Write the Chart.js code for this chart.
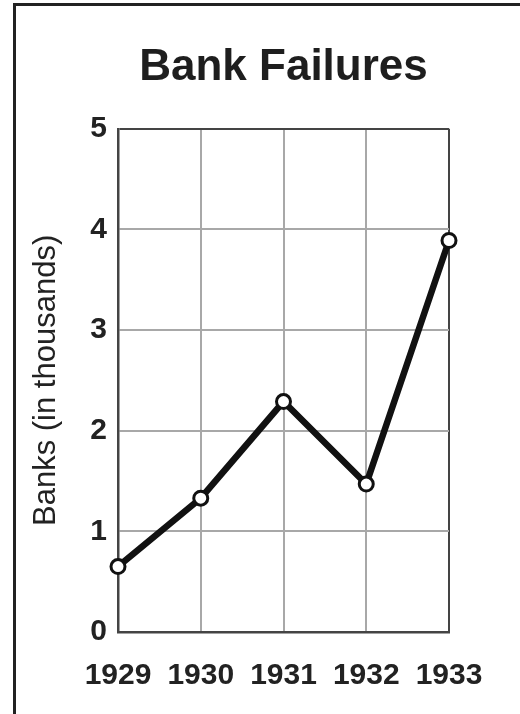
<!DOCTYPE html>
<html>
<head>
<meta charset="utf-8">
<script src="https://cdn.jsdelivr.net/npm/chart.js@4"></script>
<style>
  html, body { margin: 0; padding: 0; background: #fff; }
  #wrap { position: relative; width: 520px; height: 714px; overflow: hidden; }
  #wrap::before { content: ""; position: absolute; left: 13px; top: 3px; right: 0; bottom: 0;
    border-left: 3px solid #222; border-top: 3px solid #222; pointer-events: none; z-index: 2; }
  canvas { position: absolute; left: 0; top: 0; }
</style>
</head>
<body>
<div id="wrap"><canvas id="c" width="520" height="714"></canvas></div>
<script>
const years = ['1929', '1930', '1931', '1932', '1933'];
const bankFailures = [0.65, 1.33, 2.29, 1.47, 3.89];
const yTicks = [0, 1, 2, 3, 4, 5];
const chartTitle = 'Bank Failures';
const yTitle = 'Banks (in thousands)';

const tickFont = { family: "'Liberation Sans', Arial, sans-serif", size: 30, weight: 'bold' };
const frame = '#444';
const grid = '#a8a8a8';

new Chart(document.getElementById('c'), {
  type: 'line',
  data: {
    labels: years,
    datasets: [{
      data: bankFailures,
      borderColor: '#111',
      borderWidth: 6.5,
      tension: 0,
      pointRadius: 7,
      pointBackgroundColor: '#fff',
      pointBorderColor: '#111',
      pointBorderWidth: 3,
      clip: false
    }]
  },
  options: {
    responsive: false,
    animation: false,
    layout: { padding: { top: 41, right: 71, bottom: 0, left: 0 } },
    plugins: {
      legend: { display: false },
      tooltip: { enabled: false },
      title: {
        display: true,
        fullSize: false,
        text: chartTitle,
        color: '#1e1e1e',
        font: { family: "'Liberation Sans', Arial, sans-serif", size: 44, weight: 'bold' },
        padding: { top: 0, bottom: 35 }
      }
    },
    scales: {
      x: {
        offset: false,
        grid: {
          drawTicks: false,
          color: c => (c.index === 0 || c.index === years.length - 1) ? frame : grid,
          lineWidth: 2
        },
        border: { display: true, color: frame, width: 2.5 },
        ticks: { color: '#222', font: tickFont, padding: 26, maxRotation: 0, autoSkip: false },
        afterFit: s => { s.height = 82; }
      },
      y: {
        min: 0,
        max: 5,
        afterBuildTicks: s => { s.ticks = yTicks.map(v => ({ value: v })); },
        grid: {
          drawTicks: false,
          color: c => (c.tick && (c.tick.value === 0 || c.tick.value === 5)) ? frame : grid,
          lineWidth: 2
        },
        border: { display: true, color: frame, width: 2.5 },
        ticks: { color: '#222', font: tickFont, padding: 11 },
        title: {
          display: true,
          text: yTitle,
          color: '#222',
          font: { family: "'Liberation Sans', Arial, sans-serif", size: 31 },
          padding: { top: 28, bottom: 0 }
        },
        afterFit: s => { s.width = 118; }
      }
    }
  }
});
</script>
</body>
</html>
